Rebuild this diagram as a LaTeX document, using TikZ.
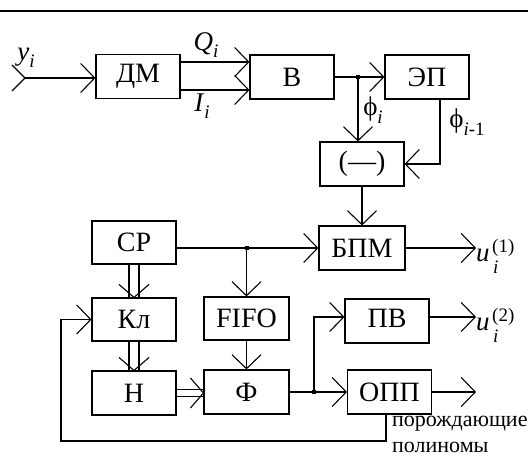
\documentclass[tikz,border=0pt]{standalone}
\usepackage{fontspec}
\setmainfont{Liberation Serif}
\usetikzlibrary{arrows.meta,calc}
\newcommand{\sub}[1]{\raisebox{-0.28em}{\fontsize{19}{21}\selectfont #1}}
\begin{document}
\begin{tikzpicture}[x=1pt,y=-1pt,
  blk/.style={draw,line width=1.1pt,minimum width=84pt,minimum height=44pt,inner sep=0pt,font=\fontsize{28}{30}\selectfont},
  con/.style={line width=1.1pt},
  arr/.style={con,-{Straight Barb[length=14pt,width=29pt,line width=1.1pt]}},
  lbl/.style={inner sep=0pt,font=\fontsize{27}{29}\selectfont},
  slbl/.style={inner sep=0pt,font=\fontsize{19}{21}\selectfont},
  dot/.style={fill,inner sep=0pt,minimum size=4pt}
]
\useasboundingbox (0,0) rectangle (528,457);
\draw[line width=2pt] (0,11) -- (528,11);

% blocks
\node[blk] (dm) at (138,76.5) {ДМ};
\node[blk] (b) at (292,77) {В};
\node[blk] (ep) at (427,77) {ЭП};
\node[blk] (mn) at (362,164) {(—)};
\node[blk,minimum width=86pt] (bpm) at (362,248) {БПМ};
\node[blk,minimum height=43pt] (cp) at (134,242.5) {СР};
\node[blk,minimum height=43pt] (kl) at (134,319.5) {Кл};
\node[blk,minimum width=85pt,minimum height=43pt] (fifo) at (246.5,318.5) {FIFO};
\node[blk] (h) at (134,393) {Н};
\node[blk,minimum width=85pt] (f) at (246.5,392) {Ф};
\node[blk] (pv) at (387,321) {\raisebox{5pt}{ПВ}};
\node[blk] (opp) at (389.5,392) {ОПП};

% input
\coordinate (in) at (25,78);
\draw[con] ($(in)+(-13,-13)$) -- (in) -- ($(in)+(-13,13)$);
\draw[arr] (in) -- (in -| dm.west);
\node[lbl] (ylab) at (26,58) {\textit{y}\sub{\textit{i}}};

% Q and I
\draw[arr] ([yshift=14.5pt]dm.east) -- ([yshift=14.5pt]dm.east -| b.west);
\draw[arr] ([yshift=-13.5pt]dm.east) -- ([yshift=-13.5pt]dm.east -| b.west);
\node[lbl] (qlab) at (206,45) {\textit{Q}\sub{\textit{i}}};
\node[lbl] (ilab) at (202,106) {\textit{I}\sub{\textit{i}}};

% B -> EP, phase
\coordinate (j1) at (358,77);
\draw[con] (b.east) -- (j1);
\draw[arr] (j1) -- (ep.west);
\node[dot] at (j1) {};
\draw[arr] (j1) -- (j1 |- mn.north);
\node[lbl] (philab) at (373,110) {ϕ\sub{\textit{i}}};
\draw[arr] ([xshift=13pt]ep.south) |- (mn.east);
\node[lbl] (phi1lab) at (467,122) {ϕ\sub{\textit{i}-1}};
\draw[arr] (mn.south) -- (bpm.north);

% CP line
\coordinate (j2) at (fifo.north |- bpm.west);
\draw[arr] (cp.east |- bpm.west) -- (bpm.west);
\node[dot] at (j2) {};
\draw[arr] (j2) -- (fifo.north);
\draw[arr] (bpm.east) -- (476,248) coordinate (o1);
\node[lbl,anchor=base west] (u1) at (476,262) {\textit{u}};
\node[slbl,anchor=base west] (u1sup) at (492,253) {(1)};
\node[slbl,anchor=base west] (u1sub) at (493,274) {\textit{i}};

% double arrows
\draw[con] ([xshift=-5pt]cp.south) -- ([xshift=-5pt]kl.north);
\draw[con] ([xshift=5pt]cp.south) -- ([xshift=5pt]kl.north);
\draw[con] ($(kl.north)+(-15,-13)$) -- (kl.north) -- ($(kl.north)+(15,-13)$);
\draw[con] ([xshift=-5pt]kl.south) -- ([xshift=-5pt]h.north);
\draw[con] ([xshift=5pt]kl.south) -- ([xshift=5pt]h.north);
\draw[con] ($(h.north)+(-15,-13)$) -- (h.north) -- ($(h.north)+(15,-13)$);
\draw[con] ([yshift=3.5pt]h.east) -- ([yshift=3.5pt]h.east -| f.west);
\draw[con] ([yshift=-3.5pt]h.east) -- ([yshift=-3.5pt]h.east -| f.west);
\draw[con] ($(h.east -| f.west)+(-13,-15)$) -- (h.east -| f.west) -- ($(h.east -| f.west)+(-13,15)$);

\draw[arr] (fifo.south) -- (fifo.south |- f.north);

% outputs
\coordinate (j3) at (314,392);
\draw[arr] (f.east) -- (opp.west);
\node[dot] at (j3) {};
\draw[arr] (j3) |- ([yshift=4pt]pv.west);
\draw[arr] ([yshift=4pt]pv.east) -- (476,317) coordinate (o2);
\node[lbl,anchor=base west] (u2) at (476,331) {\textit{u}};
\node[slbl,anchor=base west] (u2sup) at (492,322) {(2)};
\node[slbl,anchor=base west] (u2sub) at (493,343) {\textit{i}};
\draw[arr] (opp.east) -- (476,392) coordinate (o3);

% feedback
\coordinate (fb) at (61,441);
\draw[arr] ([xshift=-3.5pt]opp.south) |- (fb) |- (kl.west);
\node[inner sep=0pt,anchor=north west,align=left,font=\fontsize{22}{26}\selectfont] (poly) at (392,416) {порождающие\\полиномы};
\end{tikzpicture}
\end{document}
